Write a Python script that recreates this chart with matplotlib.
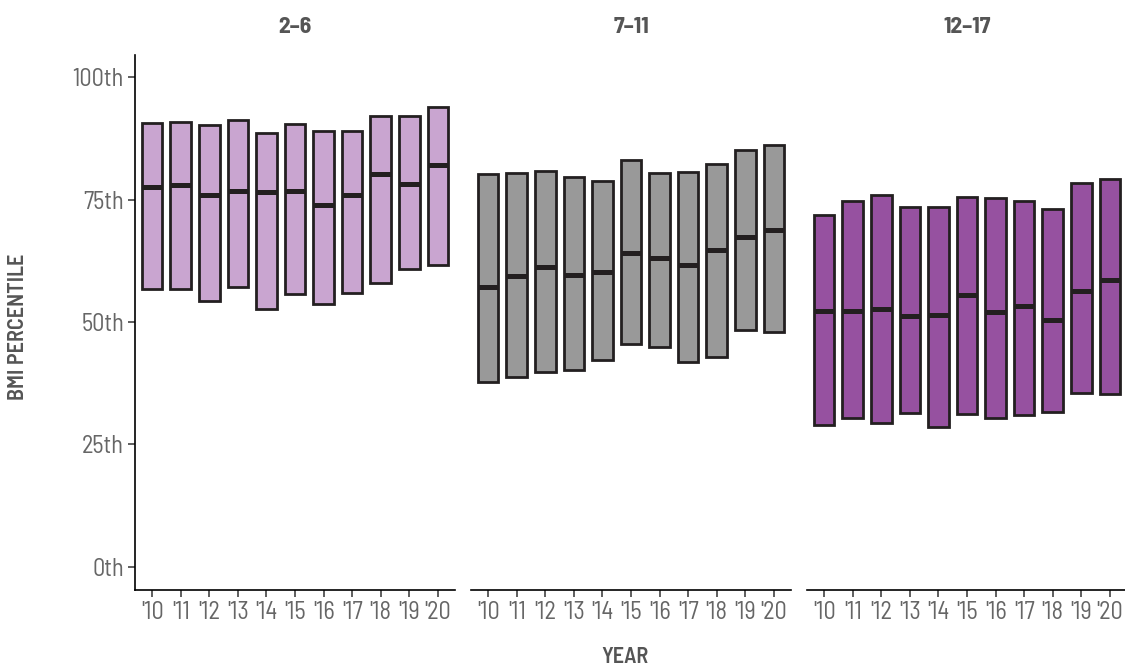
import matplotlib
matplotlib.use("Agg")
import matplotlib.pyplot as plt
import numpy as np

# BMI percentile distribution (25th / median / 75th) by age group and year
years = ["'10", "'11", "'12", "'13", "'14", "'15", "'16", "'17", "'18", "'19", "'20"]
groups = ["2\u20136", "7\u201311", "12\u201317"]

q1_2_6 = [56.8, 56.7, 54.2, 57.2, 52.7, 55.7, 53.7, 55.9, 58.0, 60.9, 61.6]
med_2_6 = [77.5, 78.0, 75.9, 76.8, 76.5, 76.7, 73.9, 76.0, 80.2, 78.2, 82.1]
q3_2_6 = [90.7, 90.9, 90.2, 91.3, 88.5, 90.4, 89.0, 89.0, 92.0, 92.1, 93.9]

q1_7_11 = [37.7, 38.8, 39.7, 40.3, 42.2, 45.6, 45.0, 41.8, 42.8, 48.4, 47.9]
med_7_11 = [57.2, 59.3, 61.2, 59.6, 60.2, 64.0, 63.1, 61.7, 64.6, 67.3, 68.8]
q3_7_11 = [80.2, 80.4, 80.9, 79.6, 78.8, 83.0, 80.4, 80.7, 82.2, 85.1, 86.2]

q1_12_17 = [29.0, 30.5, 29.4, 31.4, 28.5, 31.2, 30.5, 31.0, 31.6, 35.5, 35.4]
med_12_17 = [52.3, 52.3, 52.7, 51.2, 51.5, 55.5, 52.1, 53.3, 50.4, 56.4, 58.6]
q3_12_17 = [71.8, 74.6, 76.0, 73.4, 73.5, 75.6, 75.3, 74.7, 73.0, 78.4, 79.2]

colors = ["#c9a5d0", "#999999", "#9651a0"]
panels = [(q1_2_6, med_2_6, q3_2_6), (q1_7_11, med_7_11, q3_7_11), (q1_12_17, med_12_17, q3_12_17)]

# condensed face, like the original's Helvetica Condensed
plt.rcParams["font.family"] = ["Barlow Semi Condensed", "DejaVu Sans"]
plt.rcParams["font.stretch"] = "condensed"
TEXT = "#666666"
TITLE = "#555555"
EDGE = "#231f20"

fig = plt.figure(figsize=(11.25, 6.7), dpi=100)
W, H = 1125, 670
lefts = [135, 471, 807]
pw = 320
top, bottom = 55, 590

x = np.arange(1, len(years) + 1)
bw = 0.72
for i, (left, (q1, med, q3)) in enumerate(zip(lefts, panels)):
    ax = fig.add_axes([left / W, 1 - bottom / H, pw / W, (bottom - top) / H])
    q1 = np.array(q1); med = np.array(med); q3 = np.array(q3)
    ax.bar(x, q3 - q1, bottom=q1, width=bw, color=colors[i], edgecolor=EDGE, linewidth=2.0, zorder=2)
    ax.hlines(med, x - bw / 2, x + bw / 2, color=EDGE, linewidth=3.6, zorder=3)
    ax.set_xlim(0.4, 11.6)
    ax.set_ylim(-4.7, 104.5)
    ax.set_xticks(x)
    ax.set_xticklabels(years, fontsize=17.5, color=TEXT)
    for s in ("top", "right"):
        ax.spines[s].set_visible(False)
    ax.spines["bottom"].set_linewidth(1.2)
    ax.tick_params(axis="x", length=5, width=1.1, color="#333333", pad=3)
    if i == 0:
        ax.set_yticks([0, 25, 50, 75, 100])
        ax.set_yticklabels(["0th", "25th", "50th", "75th", "100th"], fontsize=17.5, color=TEXT)
        ax.tick_params(axis="y", length=5, width=1.1, color="#333333", pad=3)
        ax.spines["left"].set_linewidth(1.2)
    else:
        ax.spines["left"].set_visible(False)
        ax.set_yticks([])
    ax.set_title(groups[i], fontsize=17, fontweight="bold", color=TITLE, pad=16)

fig.text(18 / W, 1 - 327 / H, "BMI PERCENTILE", rotation=90, ha="center", va="center",
         fontsize=16, fontweight="semibold", color=TITLE)
fig.text(625 / W, 1 - 657 / H, "YEAR", ha="center", va="center", fontsize=16,
         fontweight="semibold", color=TITLE)

fig.savefig("out.png", dpi=100)
